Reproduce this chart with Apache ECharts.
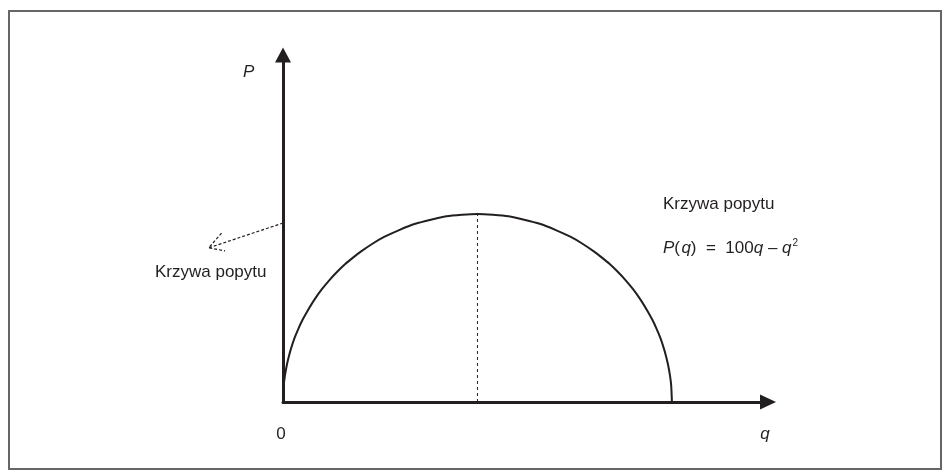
<!DOCTYPE html>
<html>
<head>
<meta charset="utf-8">
<script src="https://cdn.jsdelivr.net/npm/echarts@6/dist/echarts.min.js"></script>
<style>html,body{margin:0;padding:0;background:#fff}#c{width:950px;height:476px}</style>
</head>
<body>
<div id="c"></div>
<script>
// Demand curve readings: q (quantity) and P (price)
const qValues = [0, 0.2, 0.5, 1, 1.5, 2, 3, 4, 5, 6, 8, 10, 12, 14, 16, 18, 20, 23, 26, 30, 34, 38, 42, 46, 50, 54, 58, 62, 66, 70, 74, 77, 80, 82, 84, 86, 88, 90, 92, 94, 95, 96, 97, 98, 98.5, 99, 99.5, 99.8, 100];
const pValues = [0, 4.5, 7.0, 9.9, 12.1, 14.0, 17.1, 19.6, 21.8, 23.7, 27.1, 30.0, 32.5, 34.7, 36.7, 38.4, 40.0, 42.1, 43.9, 45.8, 47.4, 48.5, 49.4, 49.8, 50.0, 49.8, 49.4, 48.5, 47.4, 45.8, 43.9, 42.1, 40.0, 38.4, 36.7, 34.7, 32.5, 30.0, 27.1, 23.7, 21.8, 19.6, 17.1, 14.0, 12.1, 9.9, 7.0, 4.5, 0];
// vertical guide at the maximum
const peakQ = [50, 50];
const peakP = [0, 50];
// pointer from the P axis to the left label (shaft, then open arrowhead)
const pointerQ = [0, -19.1];
const pointerP = [47.6, 41.0];
const headQ = [-15.8, -19.1, -14.9];
const headP = [44.9, 41.0, 40.2];
// texts
const axisYName = 'P';
const axisXName = 'q';
const originLabel = '0';
const curveLabel = 'Krzywa popytu';

const zip = (a, b) => a.map((v, i) => [v, b[i]]);
const FONT = '"Liberation Sans", Arial, sans-serif';
const INK = '#231f20';

const chart = echarts.init(document.getElementById('c'), null, {renderer: 'canvas'});
const baseGraphic = [
  {type: 'rect', shape: {x: 9, y: 11, width: 932, height: 458}, silent: true,
    style: {fill: 'none', stroke: '#666', lineWidth: 2}},
  {type: 'text', x: 243, y: 72, style: {text: axisYName, font: 'italic 17px ' + FONT, fill: INK, verticalAlign: 'middle'}},
  {type: 'text', x: 281, y: 434, style: {text: originLabel, font: '17px ' + FONT, fill: INK, align: 'center', verticalAlign: 'middle'}},
  {type: 'text', x: 765, y: 434, style: {text: axisXName, font: 'italic 17px ' + FONT, fill: INK, align: 'center', verticalAlign: 'middle'}},
  {type: 'text', x: 155, y: 272, style: {text: curveLabel, font: '17px ' + FONT, fill: INK, verticalAlign: 'middle'}},
  {type: 'text', x: 663, y: 204, style: {text: curveLabel, font: '17px ' + FONT, fill: INK, verticalAlign: 'middle'}},
  {type: 'text', x: 663, y: 248, style: {
    text: '{i|P}(\u200A{i|q})  =  100{i|q} \u2013 {i|q}{s|2}',
    font: '17px ' + FONT, fill: INK, verticalAlign: 'middle',
    rich: {
      i: {fontStyle: 'italic', fontSize: 17, fontFamily: FONT, fill: INK},
      s: {fontSize: 10, fontFamily: FONT, fill: INK, verticalAlign: 'top', padding: [0, 0, 10, 1]}
    }
  }}
];
chart.setOption({
  animation: false,
  backgroundColor: '#fff',
  grid: {left: 283, right: 182, top: 55, bottom: 74, containLabel: false},
  xAxis: {
    type: 'value', min: 0, max: 124.7,
    axisLine: {show: true, onZero: false, lineStyle: {color: INK, width: 3},
      symbol: ['none', 'triangle'], symbolSize: [15, 16]},
    axisTick: {show: false}, axisLabel: {show: false}, splitLine: {show: false}
  },
  yAxis: {
    type: 'value', min: 0, max: 92.3,
    axisLine: {show: true, onZero: false, lineStyle: {color: INK, width: 3},
      symbol: ['none', 'triangle'], symbolSize: [16, 15]},
    axisTick: {show: false}, axisLabel: {show: false}, splitLine: {show: false}
  },
  series: [
    {type: 'line', data: zip(qValues, pValues), showSymbol: false, symbol: 'none',
      smooth: 0.25, lineStyle: {color: INK, width: 2}, z: 3},
    {type: 'line', data: zip(peakQ, peakP), showSymbol: false, symbol: 'none',
      lineStyle: {color: INK, width: 1, type: [3, 3]}, z: 2}
  ],
  graphic: baseGraphic
});

// pointer drawn through the chart's own scales (extrapolated outside the plot area)
const toPx = (qs, ps) => qs.map((q, i) => chart.convertToPixel({xAxisIndex: 0, yAxisIndex: 0}, [q, ps[i]]));
const dashStyle = {fill: 'none', stroke: INK, lineWidth: 1.2, lineDash: [3, 2]};
chart.setOption({
  graphic: baseGraphic.concat([
    {type: 'polyline', shape: {points: toPx(pointerQ, pointerP)}, style: dashStyle, silent: true},
    {type: 'polyline', shape: {points: toPx(headQ, headP)}, style: dashStyle, silent: true}
  ])
});
</script>
</body>
</html>
